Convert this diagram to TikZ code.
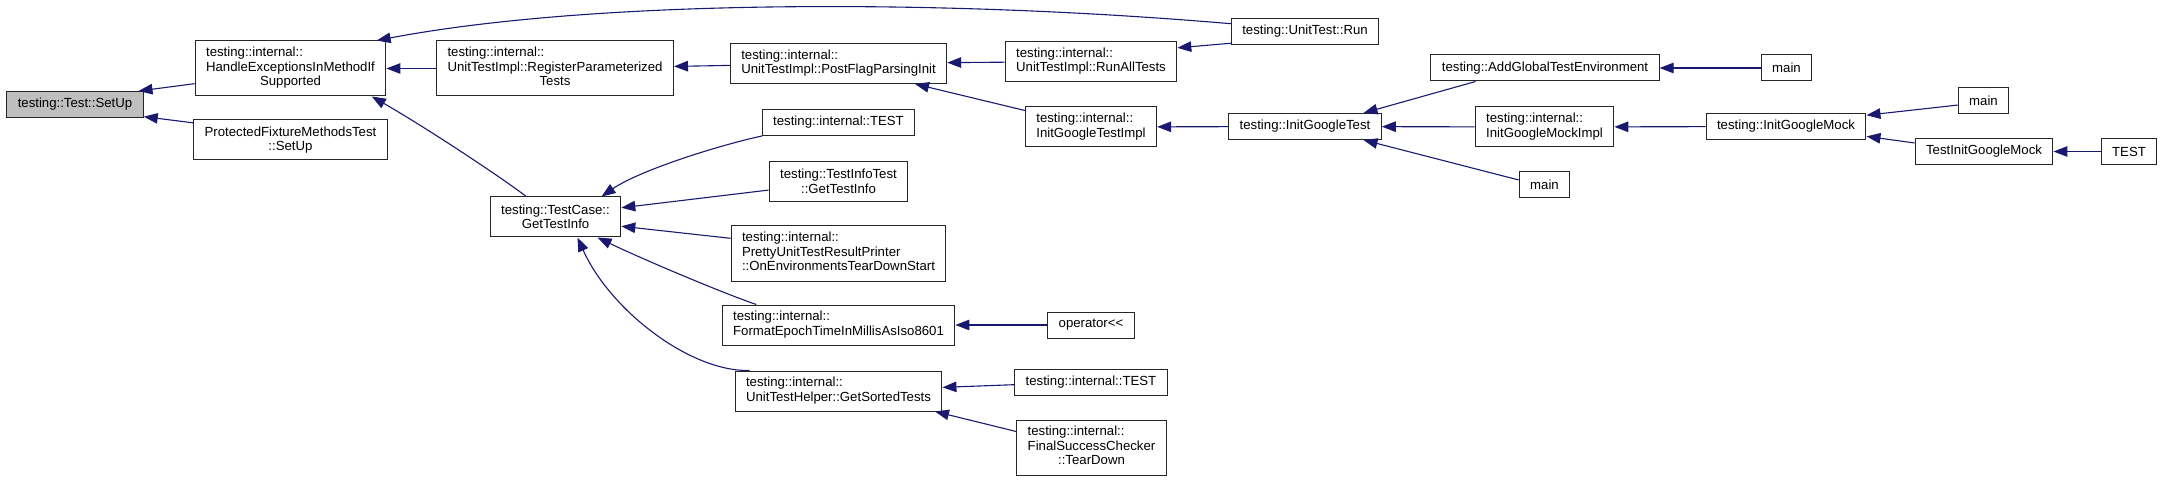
\documentclass[tikz,border=0pt]{standalone}
\usepackage{fontspec}
\setmainfont{Liberation Sans}
\usetikzlibrary{arrows.meta}
\definecolor{callblue}{HTML}{191970}
\definecolor{cellgray}{HTML}{BFBFBF}
\def\centl#1{\multicolumn{1}{@{}c@{}}{#1}}
\def\lft#1{\begin{tabular}{@{}l@{}}#1\end{tabular}}

\begin{document}
\begin{tikzpicture}[x=1pt,y=-1pt,
    fn/.style={draw=black!85,line width=1pt,fill=white,inner xsep=11pt,inner ysep=0pt,minimum height=26pt,font=\fontsize{13.2}{14.5}\selectfont},
    h2/.style={minimum height=40pt},
    h3/.style={minimum height=55pt},
    call/.style={callblue,line width=1.1pt,-{Triangle[length=14pt,width=10.5pt]}}]
    \useasboundingbox (0,0) rectangle (2163,481);
    % rank 0 and 1
    \node[fn,fill=cellgray] (setup) at (75,104.5) {testing::Test::SetUp};
    \node[fn,h3] (hdl) at (290.5,68.5) {\lft{testing::internal::\\HandleExceptionsInMethodIf\\\centl{Supported}}};
    \node[fn,h2,align=center] (pfm) at (290.5,140) {ProtectedFixtureMethodsTest\\::SetUp};
    % rank 2
    \node[fn,h3] (reg) at (555,68.5) {\lft{testing::internal::\\UnitTestImpl::RegisterParameterized\\\centl{Tests}}};
    \node[fn,h2,align=center] (gti) at (555.5,217) {testing::TestCase::\\GetTestInfo};
    % rank 3
    \node[fn,h2] (pfp) at (838.5,63.5) {\lft{testing::internal::\\UnitTestImpl::PostFlagParsingInit}};
    \node[fn] (tst1) at (838.5,122.5) {testing::internal::TEST};
    \node[fn,h2,align=center] (tit) at (838.5,181.5) {testing::TestInfoTest\\::GetTestInfo};
    \node[fn,h3] (prp) at (838.5,253.5) {\lft{testing::internal::\\PrettyUnitTestResultPrinter\\::OnEnvironmentsTearDownStart}};
    \node[fn,h2] (fet) at (838.5,325) {\lft{testing::internal::\\FormatEpochTimeInMillisAsIso8601}};
    \node[fn,h2] (gst) at (838.5,391) {\lft{testing::internal::\\UnitTestHelper::GetSortedTests}};
    % rank 4
    \node[fn,h2] (rat) at (1091,61.5) {\lft{testing::internal::\\UnitTestImpl::RunAllTests}};
    \node[fn,h2] (igti) at (1091,127) {\lft{testing::internal::\\InitGoogleTestImpl}};
    \node[fn] (opl) at (1091,325) {operator<{}<};
    \node[fn] (tst2) at (1091,382) {testing::internal::TEST};
    \node[fn,h3] (fsc) at (1091.5,447.5) {\lft{testing::internal::\\FinalSuccessChecker\\\centl{::TearDown}}};
    % rank 5 and up
    \node[fn] (run) at (1305,31.5) {testing::UnitTest::Run};
    \node[fn] (igt) at (1305,126.5) {testing::InitGoogleTest};
    \node[fn] (agte) at (1545,68) {testing::AddGlobalTestEnvironment};
    \node[fn,h2] (igmi) at (1544.5,127) {\lft{testing::internal::\\InitGoogleMockImpl}};
    \node[fn] (mainB) at (1544.5,185) {main};
    \node[fn] (mainA) at (1786.5,68) {main};
    \node[fn] (igm) at (1786,126.5) {testing::InitGoogleMock};
    \node[fn] (mainC) at (1983.5,101) {main};
    \node[fn] (tigm) at (1984,151.5) {TestInitGoogleMock};
    \node[fn] (tstm) at (2129,151.5) {TEST};

    \draw[call] (hdl.189) -- (setup.12);
    \draw[call] (pfm.170) -- (setup.350);
    \draw[call] (reg) -- (hdl);
    \draw[call] (run.174) .. controls (930,-2) and (590,0) .. (hdl.18);
    \draw[call] (gti.145) .. controls (505,180) and (430,130) .. (hdl.341);
    \draw[call] (pfp) -- (reg);
    \draw[call] (rat) -- (pfp);
    \draw[call] (igti.166) -- (pfp.345);
    \draw[call] (run.189) -- (rat.9);
    \draw[call] (igt) -- (igti);
    \draw[call] (agte.191) -- (igt.13);
    \draw[call] (igmi) -- (igt);
    \draw[call] (mainB.169) -- (igt.347);
    \draw[call] (mainA) -- (agte);
    \draw[call] (igm) -- (igmi);
    \draw[call] (mainC.189) -- (igm.8);
    \draw[call] (tigm.173) -- (igm.353);
    \draw[call] (tstm) -- (tigm);
    % callers of GetTestInfo
    \draw[call] (tst1.190) .. controls (720,145) and (640,170) .. (gti.24);
    \draw[call] (tit.187) -- (gti.8);
    \draw[call] (prp.172) -- (gti.352);
    \draw[call] (fet.166) .. controls (720,292) and (640,258) .. (gti.334);
    \draw[call] (gst.167) .. controls (690,372) and (610,310) .. (gti.317);
    \draw[call] (opl) -- (fet);
    \draw[call] (tst2.182) -- (gst.2);
    \draw[call] (fsc.168) -- (gst.348);
\end{tikzpicture}
\end{document}
